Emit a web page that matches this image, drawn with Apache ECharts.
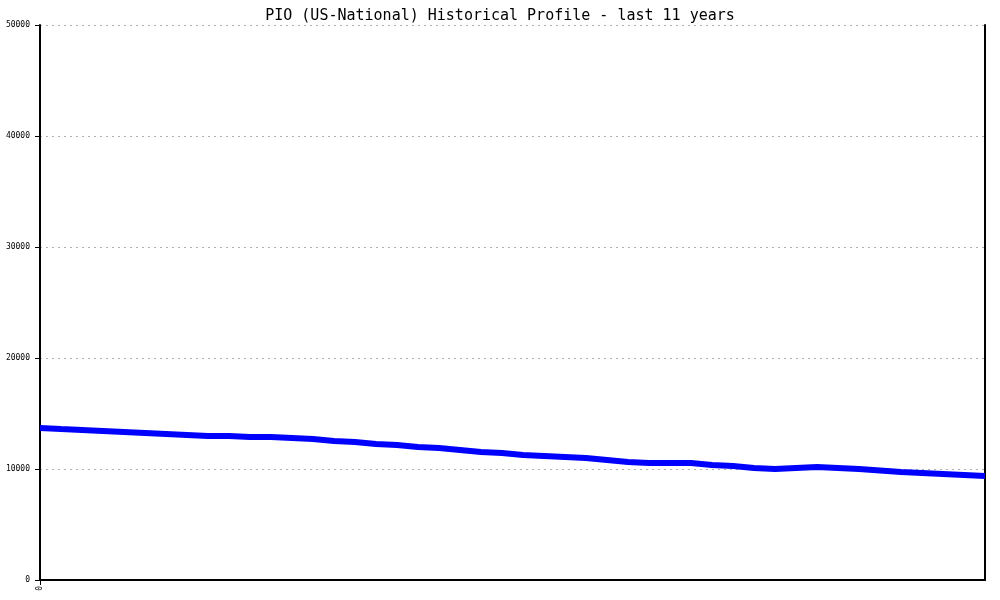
<!DOCTYPE html>
<html>
<head>
<meta charset="utf-8">
<script src="https://cdn.jsdelivr.net/npm/echarts@6/dist/echarts.min.js"></script>
<style>html,body{margin:0;padding:0;background:#fff;}#c{width:1000px;height:600px;}</style>
</head>
<body>
<div id="c"></div>
<script>
var titleText = "PIO (US-National) Historical Profile - last 11 years";
var categories = ["0","1","2","3","4","5","6","7","8","9","10","11","12","13","14","15","16","17","18","19","20","21","22","23","24","25","26","27","28","29","30","31","32","33","34","35","36","37","38","39","40","41","42","43","44","45"];
var values = [13700, 13600, 13510, 13420, 13330, 13240, 13150, 13060, 12970, 12970, 12880, 12880, 12790, 12700, 12520, 12430, 12250, 12160, 11980, 11890, 11710, 11530, 11440, 11260, 11170, 11080, 10990, 10810, 10630, 10540, 10540, 10540, 10360, 10270, 10090, 10000, 10090, 10180, 10090, 10000, 9870, 9730, 9640, 9550, 9460, 9370];
var yTicks = [0, 10000, 20000, 30000, 40000, 50000];

var chart = echarts.init(document.getElementById('c'), null, {renderer: 'canvas'});
chart.setOption({
  animation: false,
  backgroundColor: '#ffffff',
  title: {
    text: titleText,
    left: 'center',
    top: 4,
    textStyle: {fontFamily: 'DejaVu Sans Mono', fontSize: 15, fontWeight: 'normal', color: '#000'}
  },
  grid: {left: 40, right: 15, top: 25, bottom: 20, containLabel: false},
  xAxis: {
    type: 'category',
    data: categories,
    boundaryGap: false,
    axisLine: {show: true, lineStyle: {color: '#000', width: 2}},
    axisTick: {show: true, interval: function(i){return i === 0;}, length: 5, lineStyle: {color: '#000'}},
    axisLabel: {
      show: true,
      interval: 0,
      rotate: 90,
      fontFamily: 'DejaVu Sans Mono',
      fontSize: 8,
      color: '#000',
      margin: 6,
      formatter: function(v, i){ return i === 0 ? v : ''; }
    },
    splitLine: {show: false}
  },
  yAxis: [{
    type: 'value',
    min: yTicks[0],
    max: yTicks[yTicks.length - 1],
    interval: yTicks[1] - yTicks[0],
    axisLine: {show: true, lineStyle: {color: '#000', width: 2}},
    axisTick: {show: true, length: 5, lineStyle: {color: '#000'}},
    axisLabel: {fontFamily: 'DejaVu Sans Mono', fontSize: 8, color: '#000', margin: 10, formatter: function(v){ return String(v); }},
    splitLine: {show: true, lineStyle: {color: '#b0b0b0', type: [2, 4], width: 1}}
  }, {
    type: 'value',
    position: 'right',
    min: yTicks[0],
    max: yTicks[yTicks.length - 1],
    interval: yTicks[1] - yTicks[0],
    axisLine: {show: true, lineStyle: {color: '#000', width: 2}},
    axisTick: {show: false},
    axisLabel: {show: false},
    splitLine: {show: false}
  }],
  series: [{
    type: 'line',
    data: values,
    yAxisIndex: 0,
    showSymbol: false,
    symbol: 'none',
    smooth: false,
    lineStyle: {color: '#0000ff', width: 6},
    itemStyle: {color: '#0000ff'}
  }]
});
</script>
</body>
</html>
